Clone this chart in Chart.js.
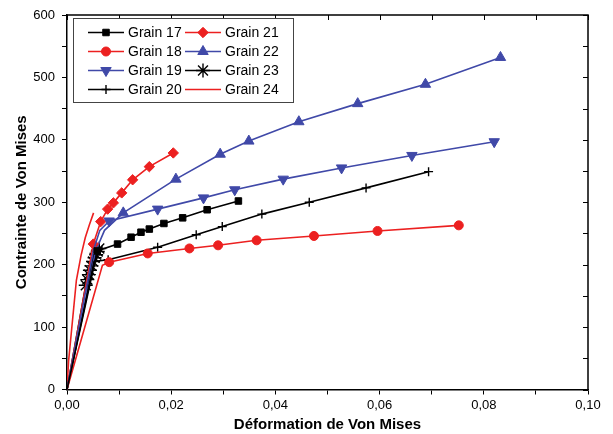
<!DOCTYPE html>
<html><head><meta charset="utf-8">
<script src="https://cdn.jsdelivr.net/npm/chart.js@4/dist/chart.umd.min.js"></script>
<style>html,body{margin:0;padding:0;background:#fff}#wrap{width:613px;height:434px}</style>
</head><body><div id="wrap"><canvas id="c" width="613" height="434"></canvas></div>
<script>
// ---- data (strain = Déformation de Von Mises, stress = Contrainte de Von Mises) ----
const grainNames = ['Grain 17','Grain 18','Grain 19','Grain 20','Grain 21','Grain 22','Grain 23','Grain 24'];

const strain17 = [0, 0.0058, 0.0097, 0.0123, 0.0142, 0.0158, 0.0186, 0.0222, 0.0269, 0.0329];
const stress17 = [0, 222, 233, 244, 252, 257, 266, 275, 288, 302];

const strain18 = [0, 0.0068, 0.0081, 0.0155, 0.0235, 0.0290, 0.0364, 0.0474, 0.0596, 0.0752];
const stress18 = [0, 199, 204, 218, 226, 231, 239, 246, 254, 263];

const strain19 = [0, 0.0051, 0.0063, 0.0081, 0.0174, 0.0262, 0.0322, 0.0415, 0.0527, 0.0662, 0.0820];
const stress19 = [0, 224, 255, 270, 289, 307, 320, 337, 355, 375, 397];

const strain20 = [0, 0.0052, 0.0079, 0.0174, 0.0248, 0.0298, 0.0374, 0.0465, 0.0574, 0.0694];
const stress20 = [0, 205, 208, 228, 248, 261, 281, 300, 323, 349];

const strain21 = [0, 0.00505, 0.00647, 0.0078, 0.0089, 0.0105, 0.0126, 0.0158, 0.0204];
const stress21 = [0, 233, 269, 289, 299, 315, 336, 357, 379];

const strain22 = [0, 0.0055, 0.0072, 0.0108, 0.0209, 0.0294, 0.0349, 0.0445, 0.0558, 0.0688, 0.0832];
const stress22 = [0, 222, 255, 283, 337, 377, 398, 429, 458, 489, 532];

const strain23 = [0, 0.0036, 0.0039, 0.0042, 0.0044, 0.0047, 0.0050, 0.0053, 0.0056, 0.0059, 0.0062];
const stress23 = [0, 167, 176, 184, 191, 198, 205, 211, 216, 221, 226];

const strain24 = [0, 0.0003, 0.0018, 0.0027, 0.0035, 0.0043, 0.0051];
const stress24 = [0, 45, 175, 215, 243, 264, 283];

const xTickStep = 0.01, xLabelEvery = 2;   // labels 0,00 … 0,10
const yTickStep = 50,  yLabelEvery = 100;  // labels 0 … 600

// ---- styles ----
const RED = '#ec2020', BLUE = '#4049a8', BLACK = '#000000';
const styles = [
  {c: BLACK, ps: 'rect',     r: 4.6, rot: 0,   hide: 1},
  {c: RED,   ps: 'circle',   r: 4.5, rot: 0,   hide: 2},
  {c: BLUE,  ps: 'triangle', r: 6,   rot: 180, hide: 3},
  {c: BLACK, ps: 'cross',    r: 4.5, rot: 0,   hide: 2},
  {c: RED,   ps: 'rectRot',  r: 5.2, rot: 0,   hide: 1},
  {c: BLUE,  ps: 'triangle', r: 6,   rot: 0,   hide: 3},
  {c: BLACK, ps: 'star',     r: 7,   rot: 0,   hide: 1},
  {c: RED,   ps: false,      r: 0,   rot: 0,   hide: 99}
];
const strains = [strain17, strain18, strain19, strain20, strain21, strain22, strain23, strain24];
const stresses = [stress17, stress18, stress19, stress20, stress21, stress22, stress23, stress24];

const datasets = grainNames.map((name, i) => {
  const s = styles[i];
  return {
    label: name,
    data: strains[i].map((x, k) => ({x: x, y: stresses[i][k]})),
    borderColor: s.c, backgroundColor: s.c,
    borderWidth: 1.6, showLine: true, tension: 0,
    pointStyle: s.ps || 'circle',
    pointRotation: s.rot,
    pointRadius: ctx => (ctx.dataIndex < s.hide ? 0 : s.r),
    pointHoverRadius: 0,
    pointBorderWidth: (s.ps === 'cross' || s.ps === 'star') ? 1.4 : 1,
    pointBorderColor: s.c, pointBackgroundColor: s.c
  };
});

const FONT = "'Liberation Sans', Arial, sans-serif";
Chart.defaults.font.family = FONT;
Chart.defaults.color = '#000';

function drawMarker(ctx, s, x, y) {
  if (!s.ps) return;
  ctx.save();
  ctx.fillStyle = s.c; ctx.strokeStyle = s.c;
  ctx.lineWidth = (s.ps === 'cross' || s.ps === 'star') ? 1.4 : 1;
  Chart.helpers.drawPoint(ctx, {pointStyle: s.ps, radius: s.r, rotation: s.rot, borderWidth: ctx.lineWidth}, x, y);
  ctx.restore();
}

const framePlugin = {
  id: 'frame',
  afterDatasetsDraw(chart) {
    const {ctx, chartArea: a, scales} = chart;
    const xs = scales.x, ys = scales.y;
    ctx.save();
    ctx.strokeStyle = '#000'; ctx.lineWidth = 1.5;
    ctx.beginPath();
    ctx.moveTo(a.left, a.top); ctx.lineTo(a.right, a.top); ctx.lineTo(a.right, a.bottom);
    ctx.stroke();
    ctx.lineWidth = 1;
    ctx.beginPath();
    for (let i = 0; i <= 10; i++) {
      const px = Math.round(xs.getPixelForValue(i * xTickStep)) + 0.5;
      ctx.moveTo(px, a.top); ctx.lineTo(px, a.top + 5);
    }
    for (let v = 0; v <= 600; v += yTickStep) {
      const py = Math.round(ys.getPixelForValue(v)) + 0.5;
      ctx.moveTo(a.right, py); ctx.lineTo(a.right - 5, py);
    }
    ctx.stroke();
    ctx.restore();
  }
};

const legendPlugin = {
  id: 'boxLegend',
  afterDraw(chart) {
    const ctx = chart.ctx;
    const bx = 73, by = 18, bw = 220, bh = 84;
    ctx.save();
    ctx.fillStyle = '#fff'; ctx.fillRect(bx, by, bw, bh);
    ctx.strokeStyle = '#444'; ctx.lineWidth = 1;
    ctx.strokeRect(bx + 0.5, by + 0.5, bw, bh);
    const order = [0, 4, 1, 5, 2, 6, 3, 7];
    const colX = [88, 185], rowY = [32.5, 51.5, 70.5, 89.5], lineLen = 36;
    ctx.font = '14px ' + FONT;
    ctx.textBaseline = 'middle';
    order.forEach((di, k) => {
      const col = k % 2, row = Math.floor(k / 2);
      const s = styles[di];
      const x0 = colX[col], y = rowY[row];
      ctx.strokeStyle = s.c; ctx.lineWidth = 1.6;
      ctx.beginPath(); ctx.moveTo(x0, y); ctx.lineTo(x0 + lineLen, y); ctx.stroke();
      drawMarker(ctx, s, x0 + lineLen / 2, y);
      ctx.fillStyle = '#000';
      ctx.fillText(grainNames[di], x0 + lineLen + 4, y + 0.5);
    });
    ctx.restore();
  }
};

new Chart(document.getElementById('c'), {
  type: 'line',
  data: {datasets},
  options: {
    responsive: false, animation: false,
    layout: {padding: {left: 0, top: 15, right: 25, bottom: 0}},
    plugins: {legend: {display: false}, tooltip: {enabled: false}},
    scales: {
      x: {
        type: 'linear', position: 'bottom', min: 0, max: 0.1,
        afterFit: s => { s.height = 44.5; },
        afterBuildTicks: s => { s.ticks = []; for (let i = 0; i <= 10; i++) s.ticks.push({value: i * xTickStep}); },
        ticks: {
          autoSkip: false, maxRotation: 0, padding: 3, color: '#000',
          font: {size: 13},
          callback: v => (Math.round(v / xTickStep) % xLabelEvery === 0 ? v.toFixed(2).replace('.', ',') : '')
        },
        grid: {drawOnChartArea: false, drawTicks: true, tickLength: 5, color: '#000', lineWidth: 1},
        border: {color: '#000', width: 1.5},
        title: {display: true, text: 'Déformation de Von Mises', color: '#000',
                font: {size: 15, weight: 'bold'}, padding: {top: 0, bottom: 0}}
      },
      y: {
        type: 'linear', position: 'left', min: 0, max: 600,
        afterFit: s => { s.width = 67; },
        ticks: {
          stepSize: yTickStep, autoSkip: false, padding: 7, color: '#000',
          font: {size: 13},
          callback: v => (v % yLabelEvery === 0 ? String(v) : '')
        },
        grid: {drawOnChartArea: false, drawTicks: true, tickLength: 5, color: '#000', lineWidth: 1},
        border: {color: '#000', width: 1.5},
        title: {display: true, text: 'Contrainte de Von Mises', color: '#000',
                font: {size: 15, weight: 'bold'}, padding: {top: 13, bottom: 0}}
      }
    }
  },
  plugins: [framePlugin, legendPlugin]
});
</script>
</body></html>
